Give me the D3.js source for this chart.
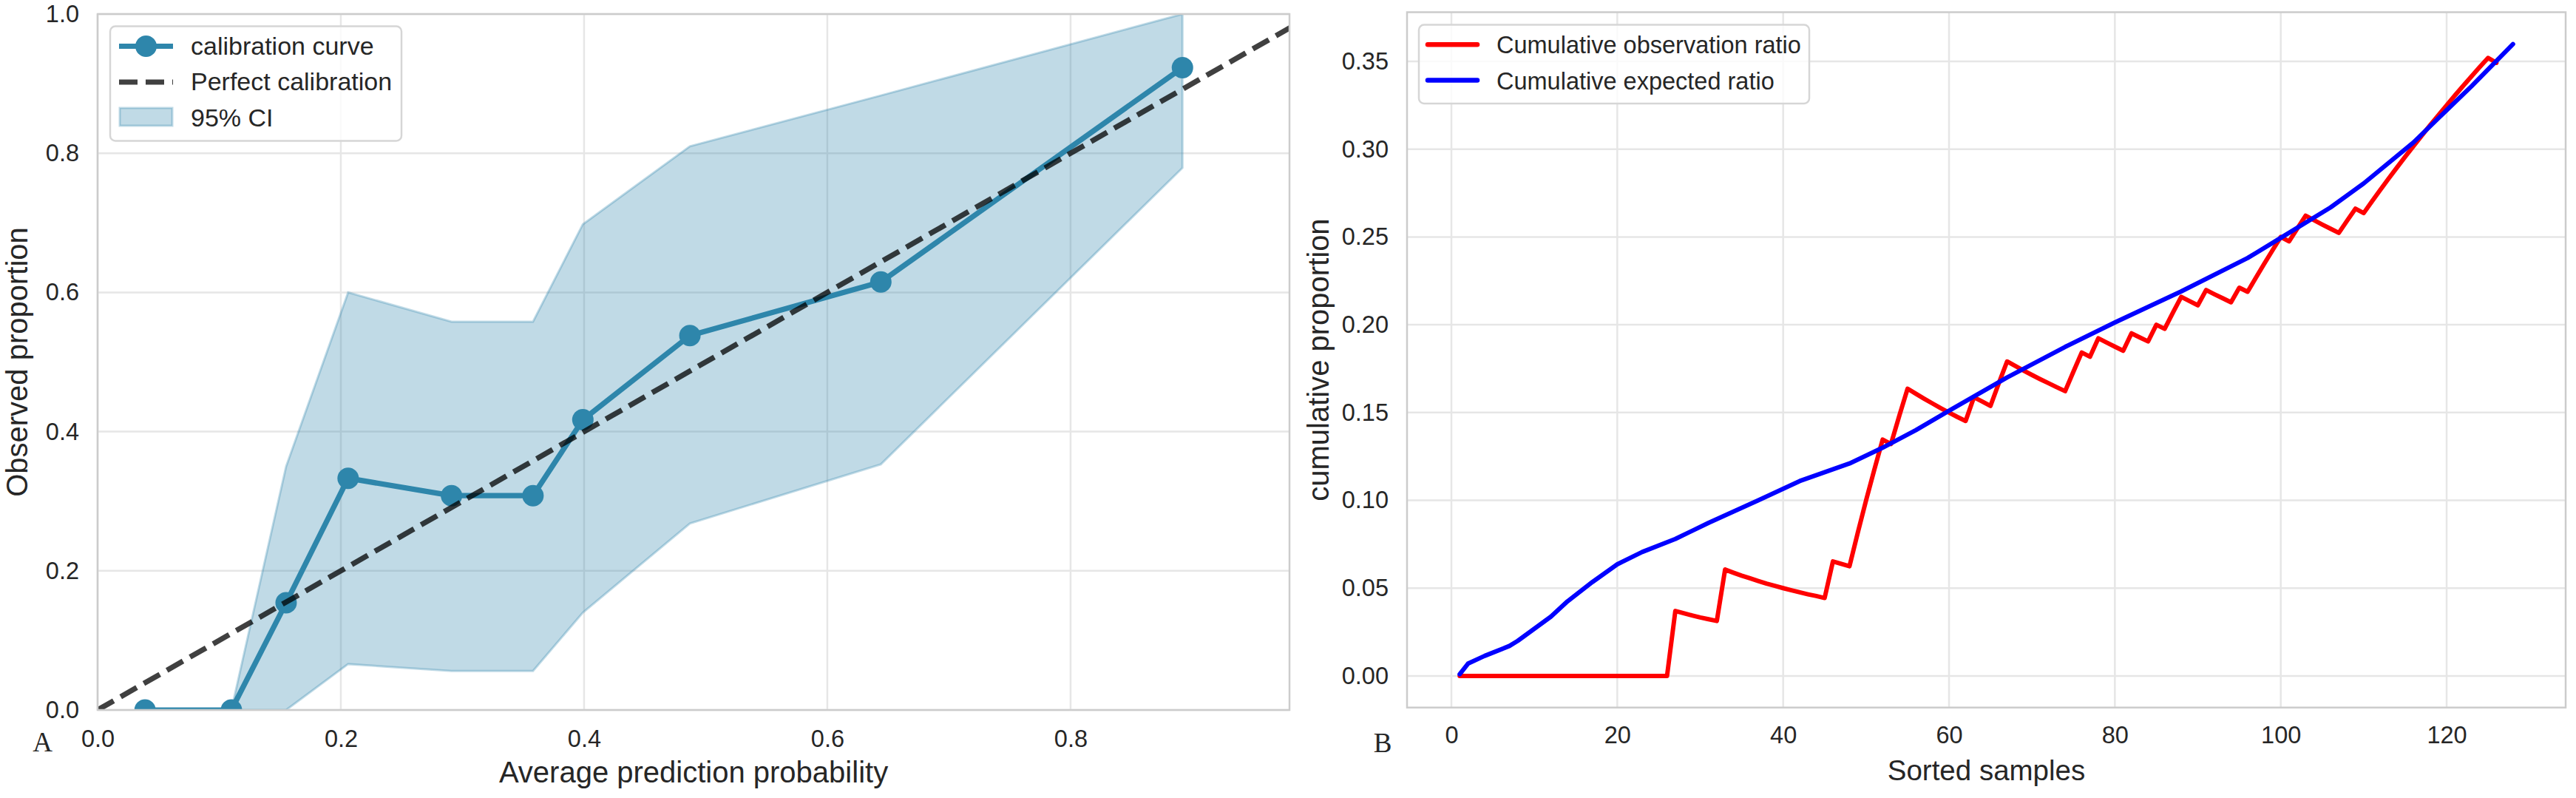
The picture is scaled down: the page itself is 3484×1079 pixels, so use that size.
<!DOCTYPE html>
<html>
<head>
<meta charset="utf-8">
<script src="https://cdn.jsdelivr.net/npm/d3@7"></script>
<style>
  body { margin: 0; background: #fff; overflow: hidden; }
  text { font-family: "Liberation Sans", Arial, sans-serif; fill: #262626; }
</style>
</head>
<body>
<div id="chart"></div>
<script>
// panel A : calibration curve
var probMean = [0.039, 0.110, 0.155, 0.206, 0.291, 0.358, 0.399, 0.487, 0.644, 0.892];
var obsProp  = [0.0, 0.0, 0.154, 0.333, 0.308, 0.308, 0.417, 0.538, 0.615, 0.923];
var ciLow    = [0.0, 0.0, 0.0, 0.066, 0.056, 0.056, 0.140, 0.268, 0.353, 0.779];
var ciHigh   = [0.0, 0.0, 0.350, 0.600, 0.558, 0.558, 0.698, 0.810, 0.883, 1.0];
var perfectLine = [0, 1];

var xTicksA = [0, 0.2, 0.4, 0.6, 0.8];
var yTicksA = [0, 0.2, 0.4, 0.6, 0.8, 1.0];

// panel B : cumulative ratios over sorted samples
var obsRatio = [
  0,0,0,0,0,0,0,0,0,0,0,0,0,0,0,0,0,0,0,0,0,0,0,0,0,0,
  0.0370,0.0357,0.0345,0.0333,0.0323,0.0313,
  0.0606,0.0588,0.0571,0.0556,0.0541,0.0526,0.0513,0.0500,0.0488,0.0476,0.0465,0.0455,0.0444,
  0.0652,0.0638,0.0625,0.0816,0.1000,0.1176,0.1346,0.1321,0.1481,0.1636,
  0.1607,0.1579,0.1552,0.1525,0.1500,0.1475,0.1452,
  0.1587,0.1563,0.1538,0.1667,0.1791,
  0.1765,0.1739,0.1714,0.1690,0.1667,0.1644,0.1622,
  0.1733,0.1842,0.1818,0.1923,0.1899,0.1875,0.1852,0.1951,0.1928,0.1905,
  0.2000,0.1977,0.2069,0.2159,0.2135,0.2111,0.2198,0.2174,0.2151,0.2128,
  0.2211,0.2188,0.2268,0.2347,0.2424,0.2500,0.2475,0.2549,0.2621,
  0.2596,0.2571,0.2547,0.2523,0.2593,0.2661,0.2636,
  0.2703,0.2768,0.2832,0.2895,0.2957,0.3017,0.3077,0.3136,0.3193,0.3250,
  0.3306,0.3361,0.3415,0.3468,0.3520,0.3492
];
var expSample = [1, 2, 4, 7, 8, 12, 14, 17, 20, 23, 27, 31, 37, 42, 48, 52, 56, 60, 67, 74, 80, 88, 96, 100, 106, 110, 116, 120, 123, 128];
var expRatio  = [0.001, 0.007, 0.0114, 0.0171, 0.020, 0.0338, 0.0425, 0.0535, 0.0636, 0.0706, 0.078, 0.0872, 0.100, 0.111, 0.121, 0.130, 0.140, 0.151, 0.170, 0.1874, 0.2013, 0.219, 0.238, 0.2495, 0.2668, 0.2805, 0.3038, 0.3222, 0.3358, 0.3598];

var xTicksB = [0, 20, 40, 60, 80, 100, 120];
var yTicksB = [0, 0.05, 0.10, 0.15, 0.20, 0.25, 0.30, 0.35];

var calColor = "#2e86ab";

var svg = d3.select("#chart").append("svg")
    .attr("width", 3484)
    .attr("height", 1079);

// scales
var xA = d3.scaleLinear().domain([0, 0.98]).range([132, 1744]);
var yA = d3.scaleLinear().domain([0, 1]).range([960, 19]);
var xB = d3.scaleLinear().domain([-5.35, 134.35]).range([1903, 3470]);
var yB = d3.scaleLinear().domain([-0.018, 0.378]).range([956.7, 16.5]);

function drawFrame(x, y, xt, yt, xfmt, yfmt, clipId, xPad)
{
    var x0 = x.range()[0], x1 = x.range()[1];
    var y0 = y.range()[1], y1 = y.range()[0];

    svg.append("defs").append("clipPath").attr("id", clipId)
        .append("rect").attr("x", x0).attr("y", y0)
        .attr("width", x1 - x0).attr("height", y1 - y0);

    var grid = svg.append("g");
    grid.selectAll(".gx").data(xt).enter().append("line")
        .attr("x1", function(d) { return x(d); }).attr("x2", function(d) { return x(d); })
        .attr("y1", y0).attr("y2", y1)
        .attr("stroke", "#e6e6e6").attr("stroke-width", 2.5);
    grid.selectAll(".gy").data(yt).enter().append("line")
        .attr("x1", x0).attr("x2", x1)
        .attr("y1", function(d) { return y(d); }).attr("y2", function(d) { return y(d); })
        .attr("stroke", "#e6e6e6").attr("stroke-width", 2.5);

    var ax = svg.append("g").attr("transform", "translate(0," + y1 + ")")
        .call(d3.axisBottom(x).tickValues(xt).tickFormat(xfmt).tickSize(0).tickPadding(xPad));
    var ay = svg.append("g").attr("transform", "translate(" + x0 + ",0)")
        .call(d3.axisLeft(y).tickValues(yt).tickFormat(yfmt).tickSize(0).tickPadding(25));
    [ax, ay].forEach(function(a) {
        a.select(".domain").remove();
        a.selectAll("text").attr("font-size", 32.5).attr("fill", "#262626")
            .attr("font-family", "Liberation Sans, Arial, sans-serif");
    });
}

drawFrame(xA, yA, xTicksA, yTicksA, d3.format(".1f"), d3.format(".1f"), "clipA", 26.8);
drawFrame(xB, yB, xTicksB, yTicksB, d3.format("d"), d3.format(".2f"), "clipB", 25.2);

// panel A data
var gA = svg.append("g").attr("clip-path", "url(#clipA)");

var band = d3.area()
    .x(function(d) { return xA(probMean[d]); })
    .y0(function(d) { return yA(ciLow[d]); })
    .y1(function(d) { return yA(ciHigh[d]); });

gA.append("path")
    .datum(d3.range(probMean.length))
    .attr("d", band)
    .attr("fill", calColor).attr("fill-opacity", 0.3)
    .attr("stroke", calColor).attr("stroke-opacity", 0.3).attr("stroke-width", 3);

var calLine = d3.line()
    .x(function(d) { return xA(probMean[d]); })
    .y(function(d) { return yA(obsProp[d]); });

gA.append("path")
    .datum(d3.range(probMean.length))
    .attr("d", calLine)
    .attr("fill", "none").attr("stroke", calColor).attr("stroke-width", 7.2)
    .attr("stroke-linejoin", "round");

gA.selectAll(".dot").data(d3.range(probMean.length)).enter().append("circle")
    .attr("cx", function(d) { return xA(probMean[d]); })
    .attr("cy", function(d) { return yA(obsProp[d]); })
    .attr("r", 14.5)
    .attr("fill", calColor);

gA.append("path")
    .datum(perfectLine)
    .attr("d", d3.line().x(function(d) { return xA(d); }).y(function(d) { return yA(d); }))
    .attr("fill", "none").attr("stroke", "#000").attr("stroke-opacity", 0.75)
    .attr("stroke-width", 7.2).attr("stroke-dasharray", "25,11");

// panel B data
var gB = svg.append("g").attr("clip-path", "url(#clipB)");

gB.append("path")
    .datum(obsRatio)
    .attr("d", d3.line().x(function(d, i) { return xB(i + 1); }).y(function(d) { return yB(d); }))
    .attr("fill", "none").attr("stroke", "red").attr("stroke-width", 6)
    .attr("stroke-linejoin", "round").attr("stroke-linecap", "round");

gB.append("path")
    .datum(d3.range(expSample.length))
    .attr("d", d3.line().x(function(d) { return xB(expSample[d]); }).y(function(d) { return yB(expRatio[d]); }))
    .attr("fill", "none").attr("stroke", "blue").attr("stroke-width", 6)
    .attr("stroke-linejoin", "round").attr("stroke-linecap", "round");

// frames on top
[[xA, yA], [xB, yB]].forEach(function(s) {
    var x0 = s[0].range()[0], x1 = s[0].range()[1];
    var y0 = s[1].range()[1], y1 = s[1].range()[0];
    svg.append("rect").attr("x", x0).attr("y", y0)
        .attr("width", x1 - x0).attr("height", y1 - y0)
        .attr("fill", "none").attr("stroke", "#cccccc").attr("stroke-width", 2.5);
});

// axis labels
svg.append("text").attr("x", (xA.range()[0] + xA.range()[1]) / 2).attr("y", 1058)
    .attr("text-anchor", "middle").attr("font-size", 40).text("Average prediction probability");
svg.append("text").attr("transform", "translate(37," + ((yA.range()[0] + yA.range()[1]) / 2) + ") rotate(-90)")
    .attr("text-anchor", "middle").attr("font-size", 40).text("Observed proportion");
svg.append("text").attr("x", (xB.range()[0] + xB.range()[1]) / 2).attr("y", 1055)
    .attr("text-anchor", "middle").attr("font-size", 38.5).text("Sorted samples");
svg.append("text").attr("transform", "translate(1797," + ((yB.range()[0] + yB.range()[1]) / 2) + ") rotate(-90)")
    .attr("text-anchor", "middle").attr("font-size", 40).text("cumulative proportion");

// panel letters
svg.append("text").attr("x", 57.5).attr("y", 1016).attr("text-anchor", "middle")
    .style("font-family", "Liberation Serif, Times New Roman, serif").attr("font-size", 37).text("A");
svg.append("text").attr("x", 1870).attr("y", 1017).attr("text-anchor", "middle")
    .style("font-family", "Liberation Serif, Times New Roman, serif").attr("font-size", 37).text("B");

// legend A
var legA = svg.append("g");
legA.append("rect").attr("x", 149).attr("y", 35.5).attr("width", 394).attr("height", 155)
    .attr("rx", 7).attr("fill", "#fff").attr("fill-opacity", 0.8)
    .attr("stroke", "#d6d6d6").attr("stroke-width", 2.5);
legA.append("line").attr("x1", 161).attr("x2", 234).attr("y1", 62.5).attr("y2", 62.5)
    .attr("stroke", calColor).attr("stroke-width", 7.2);
legA.append("circle").attr("cx", 197.5).attr("cy", 62.5).attr("r", 14.5).attr("fill", calColor);
legA.append("line").attr("x1", 161).attr("x2", 234).attr("y1", 111).attr("y2", 111)
    .attr("stroke", "#000").attr("stroke-opacity", 0.75).attr("stroke-width", 7.2)
    .attr("stroke-dasharray", "25,11");
legA.append("rect").attr("x", 162).attr("y", 146).attr("width", 71).attr("height", 24)
    .attr("fill", calColor).attr("fill-opacity", 0.3)
    .attr("stroke", calColor).attr("stroke-opacity", 0.3).attr("stroke-width", 3);
var legAText = ["calibration curve", "Perfect calibration", "95% CI"];
legA.selectAll(".lt").data(legAText).enter().append("text")
    .attr("x", 258).attr("y", function(d, i) { return 74 + i * 48.3; })
    .attr("font-size", 34).text(function(d) { return d; });

// legend B
var legB = svg.append("g");
legB.append("rect").attr("x", 1919).attr("y", 33.5).attr("width", 528).attr("height", 106.5)
    .attr("rx", 7).attr("fill", "#fff").attr("fill-opacity", 0.8)
    .attr("stroke", "#d6d6d6").attr("stroke-width", 2.5);
var legBText = ["Cumulative observation ratio", "Cumulative expected ratio"];
var legBColor = ["red", "blue"];
legB.selectAll(".lh").data(legBColor).enter().append("line")
    .attr("x1", 1931).attr("x2", 1998)
    .attr("y1", function(d, i) { return 60.3 + i * 48.2; })
    .attr("y2", function(d, i) { return 60.3 + i * 48.2; })
    .attr("stroke", function(d) { return d; }).attr("stroke-width", 6.5)
    .attr("stroke-linecap", "round");
legB.selectAll(".lt").data(legBText).enter().append("text")
    .attr("x", 2024).attr("y", function(d, i) { return 72.3 + i * 48.2; })
    .attr("font-size", 32.5).text(function(d) { return d; });
</script>
</body>
</html>
